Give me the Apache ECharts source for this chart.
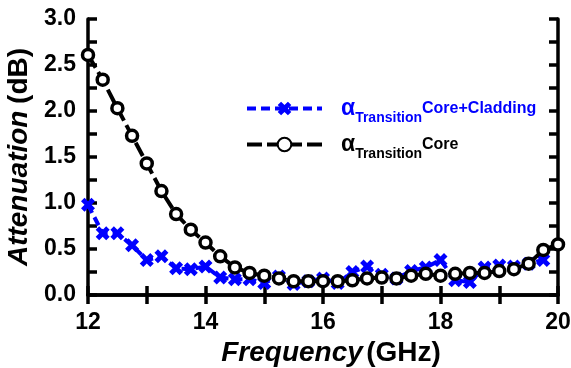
<!DOCTYPE html>
<html>
<head>
<meta charset="utf-8">
<script src="https://cdn.jsdelivr.net/npm/echarts@6/dist/echarts.min.js"></script>
<style>
  html, body { margin: 0; padding: 0; background: #fff; }
  #chart { width: 571px; height: 368px; }
</style>
</head>
<body>
<div id="chart"></div>
<script>
// Frequency sweep (GHz), 0.25 GHz steps
const frequency = [12, 12.25, 12.5, 12.75, 13, 13.25, 13.5, 13.75, 14, 14.25, 14.5, 14.75,
  15, 15.25, 15.5, 15.75, 16, 16.25, 16.5, 16.75, 17, 17.25, 17.5, 17.75,
  18, 18.25, 18.5, 18.75, 19, 19.25, 19.5, 19.75, 20];

// Transition attenuation (dB), core + cladding
const coreCladding = [0.98, 0.67, 0.67, 0.54, 0.38, 0.42, 0.29, 0.28, 0.31, 0.19, 0.17, 0.17,
  0.13, 0.20, 0.12, 0.15, 0.18, 0.13, 0.25, 0.31, 0.22, 0.18, 0.26, 0.30,
  0.38, 0.16, 0.14, 0.30, 0.32, 0.31, 0.34, 0.38, null];

// Transition attenuation (dB), core only
const coreOnly = [2.61, 2.34, 2.03, 1.73, 1.43, 1.13, 0.88, 0.71, 0.57, 0.42, 0.30, 0.24,
  0.21, 0.18, 0.15, 0.15, 0.15, 0.15, 0.16, 0.18, 0.19, 0.18, 0.21, 0.23,
  0.21, 0.23, 0.24, 0.24, 0.26, 0.28, 0.34, 0.49, 0.55];

const xTickLabels = ['12', '14', '16', '18', '20'];
const yTickLabels = ['0.0', '0.5', '1.0', '1.5', '2.0', '2.5', '3.0'];

const FONT = 'Liberation Sans, Arial, sans-serif';
const BLUE = '#0000FF';

function pairs(xs, ys) {
  return xs.map((x, i) => [x, ys[i]]);
}

// bold "X" marker
const crossPath = 'path://M0,2.5 L2.5,0 L5,2.5 L7.5,0 L10,2.5 L7.5,5 L10,7.5 L7.5,10 L5,7.5 L2.5,10 L0,7.5 L2.5,5 Z';

const axisLineStyle = { show: true, lineStyle: { color: '#000', width: 3.5 } };
const tickStyle = { show: true, inside: true, length: 9, lineStyle: { color: '#000', width: 3.5 } };
const labelFont = { fontFamily: FONT, fontWeight: 'bold', fontSize: 23, color: '#000' };

function legendRich(color) {
  return {
    a: { fontFamily: FONT, fontWeight: 'bold', fontSize: 23, color: color, padding: [0, 0, 0, 14] },
    s: { fontFamily: FONT, fontWeight: 'bold', fontSize: 14, lineHeight: 14, color: color, padding: [19, 0, 0, 0] },
    c: { fontFamily: FONT, fontWeight: 'bold', fontSize: 16, color: color }
  };
}

const richBlue = legendRich(BLUE);
const richBlack = legendRich('#000');

const nameRich = {
  i: { fontFamily: FONT, fontSize: 28, fontWeight: 'bold', fontStyle: 'italic', color: '#000' },
  n: { fontFamily: FONT, fontSize: 28, fontWeight: 'bold', color: '#000' }
};

const chart = echarts.init(document.getElementById('chart'), null, { renderer: 'canvas' });

chart.setOption({
  animation: false,
  backgroundColor: '#fff',
  grid: { left: 88, right: 13, top: 19, bottom: 73, containLabel: false, outerBoundsMode: 'none' },
  legend: {
    orient: 'vertical',
    left: 245,
    top: 92,
    padding: 0,
    itemGap: 3,
    itemWidth: 75,
    itemHeight: 17,
    lineStyle: { width: 4 },
    data: ['Core+Cladding', 'Core'],
    formatter: function (name) {
      if (name === 'Core+Cladding') {
        return '{a1|α}{s1|Transition}{c1|Core+Cladding}';
      }
      return '{a2|α}{s2|Transition}{c2|Core}';
    },
    textStyle: {
      rich: {
        a1: richBlue.a, s1: richBlue.s, c1: richBlue.c,
        a2: richBlack.a, s2: richBlack.s, c2: richBlack.c
      }
    }
  },
  xAxis: [{
    type: 'value',
    min: 12, max: 20, interval: 1,
    position: 'bottom',
    axisLine: axisLineStyle,
    axisTick: tickStyle,
    splitLine: { show: false },
    axisLabel: Object.assign({
      margin: 16,
      formatter: function (v) {
        const s = String(v);
        return xTickLabels.indexOf(s) >= 0 ? s : '';
      }
    }, labelFont),
    name: '{i|Frequency} {n|(GHz)}',
    nameLocation: 'middle',
    nameGap: 42,
    nameTextStyle: { padding: [0, 0, 0, 16], rich: nameRich }
  }, {
    type: 'value',
    min: 12, max: 20, interval: 1,
    position: 'top',
    axisLine: axisLineStyle,
    axisTick: tickStyle,
    axisLabel: { show: false },
    splitLine: { show: false }
  }],
  yAxis: [{
    type: 'value',
    min: 0, max: 3, interval: 0.25,
    position: 'left',
    axisLine: axisLineStyle,
    axisTick: tickStyle,
    splitLine: { show: false },
    axisLabel: Object.assign({
      margin: 12,
      formatter: function (v) {
        const s = v.toFixed(1);
        return (Math.abs(v * 2 - Math.round(v * 2)) < 1e-6 && yTickLabels.indexOf(s) >= 0) ? s : '';
      }
    }, labelFont),
    name: '{i|Attenuation}  {n|(dB)}',
    nameLocation: 'middle',
    nameGap: 42,
    nameTextStyle: { rich: nameRich }
  }, {
    type: 'value',
    min: 0, max: 3, interval: 0.25,
    position: 'right',
    axisLine: axisLineStyle,
    axisTick: tickStyle,
    axisLabel: { show: false },
    splitLine: { show: false }
  }],
  series: [{
    name: 'Core+Cladding',
    type: 'line',
    data: pairs(frequency, coreCladding),
    symbol: crossPath,
    symbolSize: 14,
    itemStyle: { color: BLUE, borderWidth: 0 },
    lineStyle: { color: BLUE, width: 4, type: [9, 5] },
    z: 2
  }, {
    name: 'Core',
    type: 'line',
    data: pairs(frequency, coreOnly),
    symbol: 'circle',
    symbolSize: 11,
    itemStyle: { color: '#fff', borderColor: '#000', borderWidth: 3.5 },
    lineStyle: { color: '#000', width: 4, type: [15, 5] },
    z: 3
  }]
});
</script>
</body>
</html>
